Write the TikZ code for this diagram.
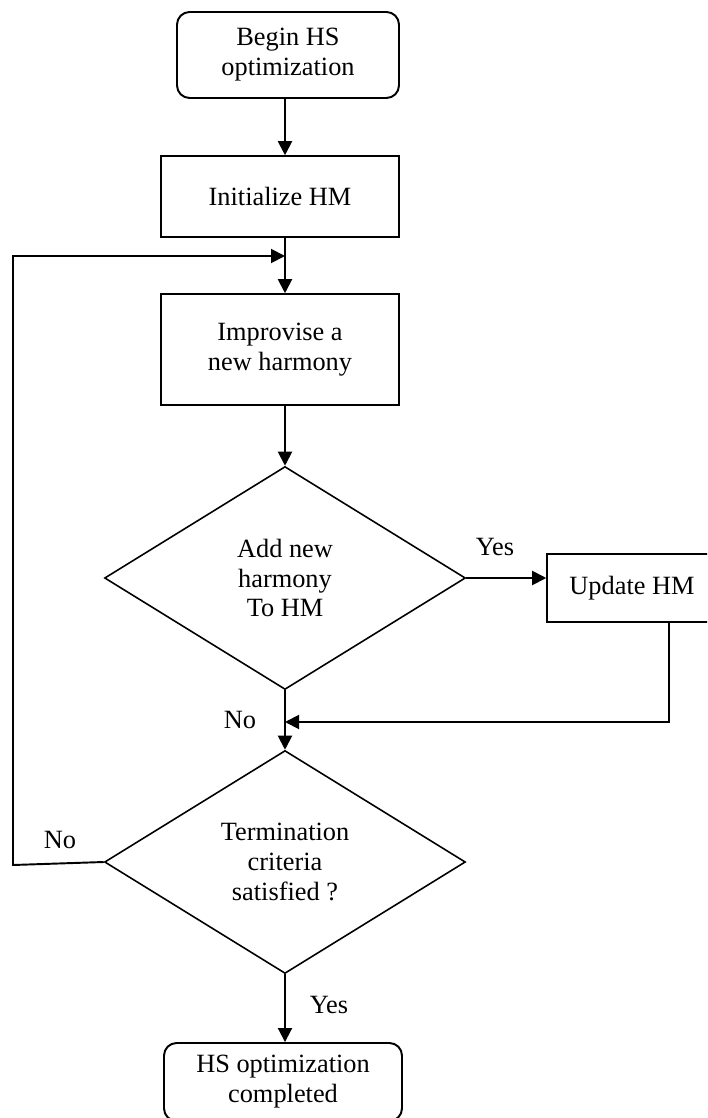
\documentclass[tikz,border=0pt]{standalone}
\usepackage{fontspec}
\setmainfont{Liberation Serif}
\usepackage{tikz}
\usetikzlibrary{arrows.meta,positioning,shapes.geometric}
\tikzset{
  blk/.style={rectangle,draw,line width=0.9pt,align=center,inner sep=0pt,font=\fontsize{15}{17}\selectfont},
  rblk/.style={blk,line width=1.1pt,rounded corners=2.5mm},
  dec/.style={diamond,draw,line width=0.9pt,align=center,inner sep=0pt,minimum width=7.22cm,minimum height=4.46cm,font=\fontsize{15}{17}\selectfont},
  lbl/.style={font=\fontsize{15}{17}\selectfont,inner sep=0pt},
  arr/.style={line width=1.1pt,-{Triangle[length=2.8mm,width=2.8mm]}},
}
\begin{document}
\begin{tikzpicture}[x=0.02cm,y=-0.02cm]
  \useasboundingbox (0,0) rectangle (707,1118);
  \clip (0,0) rectangle (707,1118);
  \node[rblk,minimum width=4.44cm,minimum height=1.72cm] (begin) at (288,55){Begin HS\\optimization};
  \node[blk,minimum width=4.76cm,minimum height=1.62cm] (init) at (280,196.5){Initialize HM};
  \node[blk,minimum width=4.76cm,minimum height=2.22cm] (impro) at (280,349.5){Improvise a\\new harmony};
  \node[dec] (add) at (285,578){Add new\\harmony\\To HM};
  \node[blk,minimum width=3.4cm,minimum height=1.36cm] (upd) at (632,588){Update HM};
  \node[dec] (term) at (285,862){Termination\\criteria\\satisfied ?};
  \node[rblk,minimum width=4.76cm,minimum height=1.56cm] (done) at (283,1082){HS optimization\\completed};
  \coordinate (join) at (285,256);
  \coordinate (merge) at (285,722);
  \coordinate (lp) at (13,865);
  \draw[arr] (begin.south -| add) -- (init.north -| add);
  \draw[arr] (init.south -| add) -- (impro.north -| add);
  \draw[arr] (impro.south -| add) -- (add.north);
  \draw[arr] (add.east) -- (add.east -| upd.west);
  \draw[arr] ([xshift=0.74cm]upd.south) |- (merge);
  \draw[arr] (add.south) -- (term.north);
  \draw[arr] (term.west) -- (lp) |- (join);
  \draw[arr] (term.south) -- (done.north -| term);
  \node[lbl] (yes1) at (495,547){Yes};
  \node[lbl] (no1) at (240,720){No};
  \node[lbl] (no2) at (60,840){No};
  \node[lbl] (yes2) at (329,1005){Yes};
\end{tikzpicture}
\end{document}
